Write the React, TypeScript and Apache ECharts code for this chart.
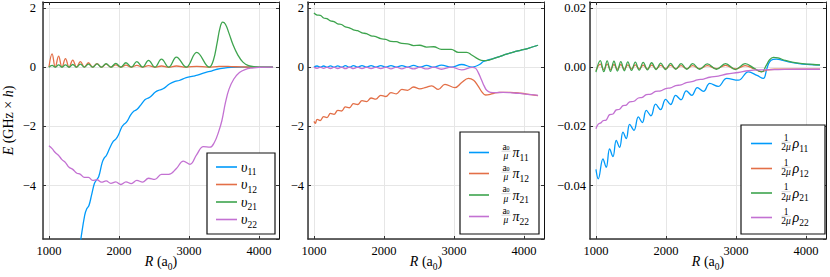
import React, { useEffect, useRef } from "react";
import * as echarts from "echarts";

const FONT = "'Liberation Serif', 'DejaVu Serif', serif";
const COLORS = ["#009AFA", "#E36F47", "#3EA44E", "#C371D2"];

// x range (R in a0)
const X_MIN = 915;
const X_MAX = 4285;

// ---------- Panel 1 : upsilon ----------
const u11: [number, number][] = [[1000,-13],[1150,-10.5],[1300,-8.1],[1394,-6.7],[1449,-5.9],[1510,-5.0],[1540,-4.78],[1570,-4.68],[1610,-4.3],[1650,-3.92],[1680,-3.8],[1710,-3.7],[1760,-3.22],[1790,-3.06],[1820,-2.98],[1870,-2.72],[1920,-2.5],[1955,-2.43],[1990,-2.3],[2040,-2.02],[2075,-1.92],[2110,-1.85],[2170,-1.6],[2215,-1.48],[2255,-1.43],[2310,-1.28],[2370,-1.1],[2410,-1.05],[2450,-1.0],[2520,-0.84],[2580,-0.77],[2630,-0.73],[2720,-0.57],[2800,-0.48],[2860,-0.45],[2960,-0.35],[3060,-0.3],[3120,-0.27],[3230,-0.18],[3320,-0.13],[3400,-0.07],[3500,-0.03],[3600,-0.01],[3750,0],[4200,0]];
const u12: [number, number][] = [[1000,0],[1045,0.45],[1090,0],[1138,0.37],[1186,0],[1236,0.29],[1287,0],[1340,0.24],[1394,0],[1449,0.19],[1506,0],[1564,0.15],[1624,0],[1686,0.12],[1750,0],[1816,0.1],[1884,0],[1954,0.08],[2026,0],[2100,0.07],[2176,0],[2255,0.06],[2337,0],[2422,0.05],[2512,0],[2607,0.04],[2710,0],[2820,0.04],[2960,0],[3110,0.03],[3270,0],[3400,0.02],[3500,0.03],[3600,0.02],[3750,0.01],[3900,0],[4200,0]];
const u21: [number, number][] = [[1000,0],[1045,0.06],[1090,0],[1138,0.08],[1186,0],[1236,0.08],[1287,0],[1340,0.09],[1394,0],[1449,0.1],[1506,0],[1564,0.1],[1624,0],[1686,0.11],[1750,0],[1816,0.12],[1884,0],[1954,0.13],[2026,0],[2100,0.15],[2176,0],[2255,0.19],[2337,0],[2422,0.23],[2512,0],[2607,0.27],[2710,0],[2820,0.34],[2960,0],[3110,0.5],[3290,0],[3350,0.25],[3400,0.8],[3440,1.3],[3480,1.52],[3520,1.45],[3570,1.15],[3630,0.75],[3700,0.4],[3770,0.17],[3850,0.05],[3950,0.01],[4050,0],[4200,0]];
const u22: [number, number][] = [[1000,-2.65],[1045,-2.75],[1090,-2.88],[1138,-2.98],[1186,-3.12],[1236,-3.22],[1287,-3.38],[1340,-3.45],[1394,-3.57],[1449,-3.62],[1506,-3.72],[1564,-3.72],[1624,-3.82],[1686,-3.8],[1750,-3.88],[1816,-3.84],[1884,-3.92],[1954,-3.87],[2026,-3.96],[2100,-3.87],[2176,-3.93],[2255,-3.82],[2337,-3.88],[2422,-3.75],[2512,-3.79],[2607,-3.62],[2710,-3.62],[2820,-3.42],[2919,-3.17],[3014,-3.28],[3110,-2.95],[3205,-2.68],[3300,-2.7],[3360,-2.55],[3420,-2.2],[3470,-1.8],[3520,-1.2],[3570,-0.75],[3640,-0.4],[3720,-0.18],[3800,-0.08],[3900,-0.03],[4000,-0.01],[4200,0]];

// ---------- Panel 2 : (a0/mu) pi ----------
const p11: [number, number][] = [[1000,0],[1045,0.04],[1090,0],[1138,0.04],[1186,0],[1236,0.045],[1287,0],[1340,0.045],[1394,0],[1449,0.05],[1506,0],[1564,0.05],[1624,0],[1686,0.05],[1750,0],[1816,0.05],[1884,0],[1954,0.05],[2026,0],[2100,0.055],[2176,0],[2255,0.055],[2337,0],[2422,0.06],[2512,0],[2607,0.06],[2710,0],[2820,0.07],[2960,0],[3110,0.09],[3260,0.005],[3320,0.04],[3370,0.1],[3420,0.19],[3470,0.23],[3560,0.29],[3650,0.36],[3750,0.44],[3850,0.51],[3950,0.57],[4050,0.63],[4200,0.74]];
const p12: [number, number][] = [[1000,-1.83],[1020,-1.9],[1045,-1.76],[1090,-1.8],[1138,-1.67],[1186,-1.7],[1236,-1.56],[1287,-1.59],[1340,-1.46],[1394,-1.48],[1449,-1.34],[1506,-1.37],[1564,-1.23],[1624,-1.26],[1686,-1.13],[1750,-1.16],[1816,-1.04],[1884,-1.08],[1954,-0.95],[2026,-0.99],[2100,-0.86],[2176,-0.9],[2255,-0.75],[2337,-0.78],[2422,-0.67],[2512,-0.73],[2600,-0.68],[2681,-0.63],[2776,-0.75],[2871,-0.58],[3014,-0.69],[3110,-0.52],[3205,-0.38],[3280,-0.44],[3340,-0.62],[3400,-0.84],[3450,-0.94],[3500,-0.93],[3570,-0.88],[3650,-0.85],[3800,-0.85],[3950,-0.88],[4100,-0.93],[4200,-0.96]];
const p21: [number, number][] = [[1000,1.83],[1045,1.76],[1090,1.75],[1138,1.66],[1186,1.64],[1236,1.56],[1287,1.54],[1340,1.46],[1394,1.44],[1449,1.36],[1506,1.33],[1564,1.26],[1624,1.23],[1686,1.16],[1750,1.13],[1816,1.06],[1884,1.03],[1954,0.96],[2026,0.94],[2100,0.87],[2176,0.86],[2255,0.8],[2337,0.79],[2422,0.73],[2512,0.74],[2607,0.68],[2710,0.69],[2820,0.6],[2960,0.6],[3062,0.5],[3181,0.5],[3252,0.41],[3348,0.27],[3419,0.22],[3480,0.23],[3560,0.29],[3650,0.36],[3750,0.44],[3850,0.51],[3950,0.57],[4050,0.63],[4200,0.74]];
const p22: [number, number][] = [[1000,0],[1045,-0.04],[1090,0],[1138,-0.04],[1186,0],[1236,-0.045],[1287,0],[1340,-0.045],[1394,0],[1449,-0.05],[1506,0],[1564,-0.05],[1624,0],[1686,-0.05],[1750,0],[1816,-0.05],[1884,0],[1954,-0.05],[2026,0],[2100,-0.055],[2176,0],[2255,-0.055],[2337,0],[2422,-0.06],[2512,0],[2607,-0.06],[2710,0],[2820,-0.07],[2960,0],[3110,-0.09],[3260,-0.005],[3310,-0.04],[3350,-0.2],[3395,-0.44],[3430,-0.63],[3467,-0.78],[3520,-0.85],[3600,-0.86],[3700,-0.85],[3800,-0.86],[3900,-0.88],[4000,-0.9],[4100,-0.93],[4200,-0.95]];

// ---------- Panel 3 : (1/2mu) rho ----------
const r11: [number, number][] = [[1000,-0.0345],[1033,-0.0377],[1100,-0.031],[1147,-0.0338],[1195,-0.0276],[1243,-0.0302],[1290,-0.0247],[1338,-0.0271],[1386,-0.0219],[1433,-0.0241],[1481,-0.0193],[1543,-0.0213],[1605,-0.0168],[1662,-0.0187],[1719,-0.0146],[1785,-0.0164],[1852,-0.0125],[1923,-0.0143],[1995,-0.0109],[2066,-0.0126],[2138,-0.0095],[2214,-0.011],[2290,-0.008],[2369,-0.0095],[2448,-0.0069],[2536,-0.0082],[2625,-0.0055],[2746,-0.0065],[2867,-0.0038],[3033,-0.0044],[3176,-0.0016],[3300,-0.0028],[3390,-0.0038],[3440,-0.0005],[3480,0.0018],[3530,0.0026],[3580,0.0027],[3650,0.0024],[3750,0.0018],[3900,0.0012],[4050,0.0009],[4200,0.0007]];
const r12: [number, number][] = [[1000,-0.0012],[1062,0.001],[1112,-0.0008],[1160,0.001],[1208,-0.0008],[1257,0.0009],[1306,-0.0007],[1355,0.0009],[1405,-0.0007],[1455,0.0008],[1508,-0.0006],[1562,0.0008],[1618,-0.0006],[1675,0.0007],[1735,-0.0006],[1795,0.0007],[1860,-0.0005],[1925,0.0006],[1995,-0.0005],[2065,0.0006],[2140,-0.0005],[2215,0.0005],[2298,-0.0005],[2380,0.0005],[2480,-0.0005],[2590,0.0005],[2720,-0.0005],[2850,0.0006],[2990,-0.0006],[3130,0.0005],[3260,-0.0006],[3367,-0.0015],[3450,-0.0009],[3550,-0.0007],[3700,-0.0007],[4200,-0.0007]];
const r21: [number, number][] = [[1000,-0.0017],[1062,0.0022],[1112,-0.0015],[1160,0.0021],[1208,-0.0014],[1257,0.002],[1306,-0.0013],[1355,0.0019],[1405,-0.0012],[1455,0.0018],[1508,-0.0011],[1562,0.0017],[1618,-0.001],[1675,0.0016],[1735,-0.0009],[1795,0.0015],[1860,-0.0008],[1925,0.0014],[1995,-0.0008],[2065,0.0013],[2140,-0.0007],[2215,0.0012],[2298,-0.0007],[2380,0.0012],[2480,-0.0007],[2590,0.0011],[2720,-0.0007],[2850,0.0012],[2990,-0.0008],[3130,0.0012],[3260,-0.0004],[3367,-0.0016],[3430,0.0005],[3480,0.0025],[3533,0.0033],[3600,0.0031],[3700,0.0023],[3800,0.0017],[3950,0.0012],[4100,0.0009],[4200,0.0008]];
const r22: [number, number][] = [[1000,-0.0208],[1033,-0.0192],[1070,-0.0188],[1100,-0.0181],[1147,-0.0178],[1195,-0.016],[1243,-0.0158],[1290,-0.0144],[1338,-0.0142],[1386,-0.013],[1433,-0.0128],[1481,-0.0117],[1543,-0.0115],[1605,-0.0104],[1662,-0.0102],[1719,-0.0093],[1785,-0.0091],[1852,-0.0082],[1923,-0.008],[1995,-0.0072],[2066,-0.007],[2138,-0.0062],[2214,-0.006],[2290,-0.0052],[2369,-0.0049],[2448,-0.0043],[2536,-0.004],[2625,-0.0034],[2746,-0.003],[2867,-0.0023],[3033,-0.0018],[3176,-0.0012],[3390,-0.0009],[3600,-0.0008],[3900,-0.0007],[4200,-0.0007]];

const SUBS = ["11", "12", "21", "22"];

const fmtInt = (v: number) => String(Math.round(v)).replace("-", "\u2212");
const fmt2 = (v: number) => v.toFixed(2).replace("-", "\u2212");

const PANELS = [
  { left: 43, yMin: -5.8, yMax: 2.2, fmt: fmtInt, lm: 7, data: [u11, u12, u21, u22] },
  { left: 308, yMin: -5.8, yMax: 2.2, fmt: fmtInt, lm: 4, data: [p11, p12, p21, p22] },
  { left: 590, yMin: -0.058, yMax: 0.022, fmt: fmt2, lm: 4, data: [r11, r12, r21, r22] },
];
const GRID_TOP = 2;
const GRID_W = 236;
const GRID_H = 237;

function buildOption() {
  const grid: any[] = [];
  const xAxis: any[] = [];
  const yAxis: any[] = [];
  const series: any[] = [];
  PANELS.forEach((p, i) => {
    grid.push({ left: p.left, top: GRID_TOP, width: GRID_W, height: GRID_H });
    const common = { type: "value", gridIndex: i, splitNumber: 4 };
    xAxis.push({
      ...common, min: X_MIN, max: X_MAX, position: "bottom",
      axisLine: { show: true, onZero: false, lineStyle: { color: "#333", width: 1.5 } },
      axisTick: { show: true, inside: true, length: 3, lineStyle: { color: "#333" } },
      axisLabel: { margin: 5, fontFamily: FONT, fontSize: 12.5, color: "#000", showMinLabel: false, showMaxLabel: false, formatter: fmtInt },
      splitLine: { show: true, lineStyle: { color: "#e6e6e6", width: 1 } },
    });
    xAxis.push({
      ...common, min: X_MIN, max: X_MAX, position: "top",
      axisLine: { show: true, onZero: false, lineStyle: { color: "#111", width: 1 } },
      axisTick: { show: true, inside: true, length: 3, lineStyle: { color: "#333" } },
      axisLabel: { show: false }, splitLine: { show: false },
    });
    yAxis.push({
      ...common, min: p.yMin, max: p.yMax, position: "left",
      axisLine: { show: true, onZero: false, lineStyle: { color: "#333", width: 1.5 } },
      axisTick: { show: true, inside: true, length: 3, lineStyle: { color: "#333" } },
      axisLabel: { margin: p.lm, fontFamily: FONT, fontSize: 12.5, color: "#000", showMinLabel: false, showMaxLabel: false, formatter: p.fmt },
      splitLine: { show: true, lineStyle: { color: "#e6e6e6", width: 1 } },
    });
    yAxis.push({
      ...common, min: p.yMin, max: p.yMax, position: "right",
      axisLine: { show: true, onZero: false, lineStyle: { color: "#111", width: 1 } },
      axisTick: { show: true, inside: true, length: 3, lineStyle: { color: "#333" } },
      axisLabel: { show: false }, splitLine: { show: false },
    });
    p.data.forEach((d, k) => {
      series.push({
        type: "line", xAxisIndex: 2 * i, yAxisIndex: 2 * i, data: d,
        showSymbol: false, smooth: 0.4, clip: true,
        lineStyle: { width: 1.3, color: COLORS[k] }, itemStyle: { color: COLORS[k] },
        z: 2 + k,
      });
    });
  });

  const rich = {
    m: { fontFamily: FONT, fontSize: 14, fontStyle: "italic", verticalAlign: "bottom", padding: [0, 0, 3, 0], color: "#000" },
    s: { fontFamily: FONT, fontSize: 9.5, verticalAlign: "bottom", color: "#000" },
    n: { fontFamily: FONT, fontSize: 14, verticalAlign: "bottom", padding: [0, 0, 3, 0], color: "#000" },
  };
  const smallRich = {
    m: { fontFamily: FONT, fontSize: 9.5, fontStyle: "italic", lineHeight: 8, verticalAlign: "middle", color: "#000" },
    n: { fontFamily: FONT, fontSize: 9.5, lineHeight: 8, verticalAlign: "middle", color: "#000" },
    s: { fontFamily: FONT, fontSize: 6, lineHeight: 8, verticalAlign: "bottom", color: "#000" },
  };

  const graphic: any[] = [];
  // axis titles
  PANELS.forEach((p) => {
    graphic.push({
      type: "text", x: p.left + GRID_W / 2, y: 263, z: 100,
      style: { text: "{m|R}{n| (a}{s|0}{n|)}", rich, align: "center", verticalAlign: "middle" },
    });
  });
  graphic.push({
    type: "text", x: 10, y: 120.5, rotation: Math.PI / 2, z: 100,
    style: { text: "{m|E}{n| (GHz \u00d7 }{m|h}{n|)}", rich, align: "center", verticalAlign: "middle" },
  });

  // legends
  const legends = [
    { box: [207, 153, 68, 81], lx: [216, 237], tx: 241, rows: [167, 184.5, 202, 219.5], kind: 0 },
    { box: [460, 132, 79, 102], lx: [469, 489], tx: 501, rows: [152.5, 173.5, 195, 216.5], kind: 1 },
    { box: [741, 125, 84, 109], lx: [751, 772], tx: 781, rows: [143.5, 168.5, 193, 217.5], kind: 2 },
  ];
  legends.forEach((L) => {
    graphic.push({
      type: "rect", z: 100,
      shape: { x: L.box[0], y: L.box[1], width: L.box[2], height: L.box[3] },
      style: { fill: "#fff", stroke: "#111", lineWidth: 1.2 },
    });
    L.rows.forEach((ry, k) => {
      graphic.push({
        type: "line", z: 101,
        shape: { x1: L.lx[0], y1: ry, x2: L.lx[1], y2: ry },
        style: { stroke: COLORS[k], lineWidth: 1.6 },
      });
      if (L.kind === 0) {
        graphic.push({
          type: "text", z: 101, x: L.tx, y: ry + 1.5,
          style: { text: `{m|\u03c5}{s|${SUBS[k]}}`, rich, align: "left", verticalAlign: "middle" },
        });
      } else {
        const num = L.kind === 1 ? "{n|a}{s|0}" : "{n|1}";
        const den = L.kind === 1 ? "{m|\u03bc}" : "{n|2}{m|\u03bc}";
        const sym = L.kind === 1 ? "\u03c0" : "\u03c1";
        const fx = L.tx + 5;
        graphic.push({
          type: "text", z: 101, x: fx, y: ry - 6,
          style: { text: num, rich: smallRich, align: "center", verticalAlign: "middle" },
        });
        graphic.push({
          type: "line", z: 101,
          shape: { x1: fx - 4.5, y1: ry - 1.3, x2: fx + 4.5, y2: ry - 1.3 },
          style: { stroke: "#aaa", lineWidth: 0.5 },
        });
        graphic.push({
          type: "text", z: 101, x: fx, y: ry + 3.5,
          style: { text: den, rich: smallRich, align: "center", verticalAlign: "middle" },
        });
        graphic.push({
          type: "text", z: 101, x: L.tx + 11.5, y: ry + 1.5,
          style: { text: `{m|${sym}}{s|${SUBS[k]}}`, rich, align: "left", verticalAlign: "middle" },
        });
      }
    });
  });

  return { animation: false, backgroundColor: "#fff", grid, xAxis, yAxis, series, graphic };
}

export default function App() {
  const ref = useRef<HTMLDivElement>(null);
  useEffect(() => {
    if (!ref.current) return;
    const chart = echarts.init(ref.current, null, { renderer: "svg" });
    chart.setOption(buildOption() as any);
    return () => chart.dispose();
  }, []);
  return (
    <div
      ref={ref}
      style={{ position: "fixed", left: 0, top: 0, width: 830, height: 277, background: "#fff" }}
    />
  );
}
